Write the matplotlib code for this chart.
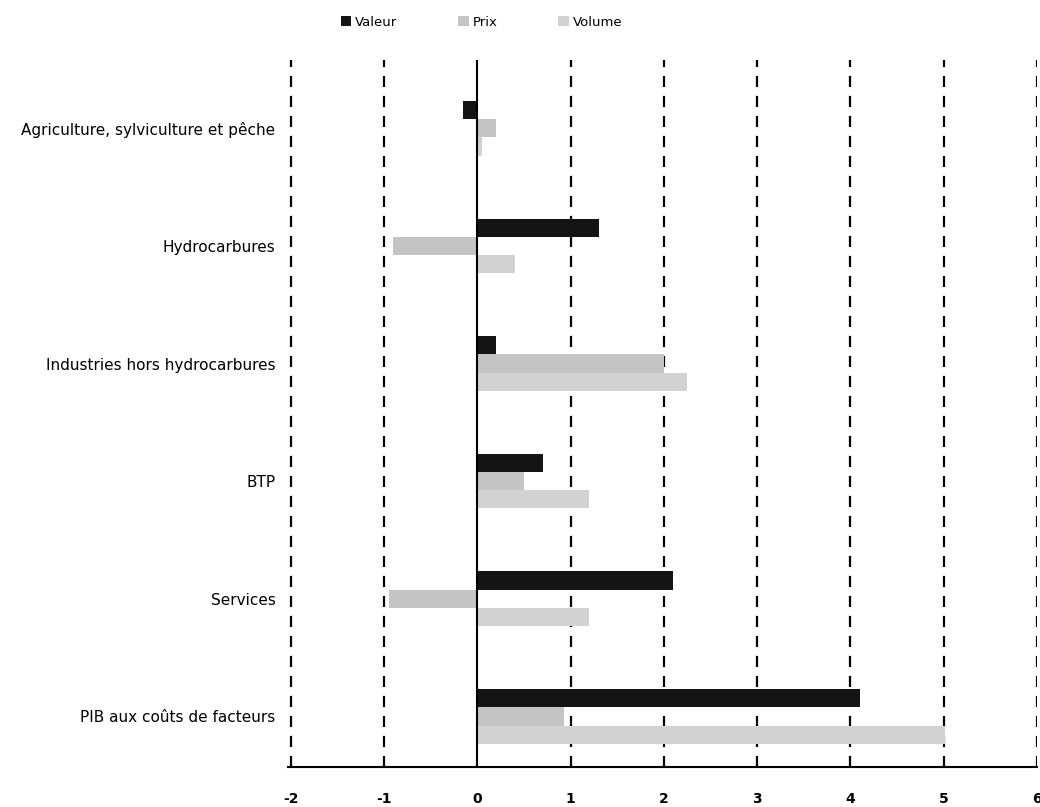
import matplotlib.pyplot as plt
import numpy as np

categories = ["Agriculture, sylviculture et pêche", "Hydrocarbures",
              "Industries hors hydrocarbures", "BTP", "Services",
              "PIB aux coûts de facteurs"]
valeur = [-0.15, 1.3, 0.2, 0.7, 2.1, 4.1]
prix = [0.2, -0.9, 2.0, 0.5, -0.95, 0.93]
volume = [0.05, 0.4, 2.25, 1.2, 1.2, 5.02]
xticks = [-2, -1, 0, 1, 2, 3, 4, 5, 6]

fig = plt.figure(figsize=(10.4, 8.07), dpi=100)
ax = fig.add_axes([0.277, 0.0496, 0.72, 0.876])

y = np.arange(len(categories))
h = 0.155
ax.barh(y - h, valeur, height=h, color="#141414", label="Valeur", zorder=3)
ax.barh(y, prix, height=h, color="#c4c4c4", label="Prix", zorder=3)
ax.barh(y + h, volume, height=h, color="#d2d2d2", label="Volume", zorder=3)

# grille pointillée verticale, trait plein à zéro
for t in xticks:
    if t == 0:
        ax.axvline(0, color="black", lw=1.5, zorder=4)
    else:
        ax.axvline(t, color="black", lw=1.6, ls=(0, (5, 4)), zorder=2)

ax.set_xlim(-2.03, 6.0)
ax.set_ylim(5.43, -0.58)
ax.set_yticks(y)
ax.set_yticklabels(categories, fontsize=11)
ax.set_xticks(xticks)
ax.set_xticklabels([str(t) for t in xticks], fontsize=10, fontweight="bold")
ax.tick_params(axis="both", length=0)
ax.tick_params(axis="x", pad=18)
ax.tick_params(axis="y", pad=9)
for s in ["top", "right", "left"]:
    ax.spines[s].set_visible(False)
ax.spines["bottom"].set_linewidth(1.5)

fig.legend(loc="upper center", bbox_to_anchor=(0.463, 0.995), ncol=3, frameon=False,
           fontsize=9.5, handlelength=0.8, handleheight=0.8, columnspacing=4.6,
           handletextpad=0.3)

fig.savefig("out.png", dpi=100)
